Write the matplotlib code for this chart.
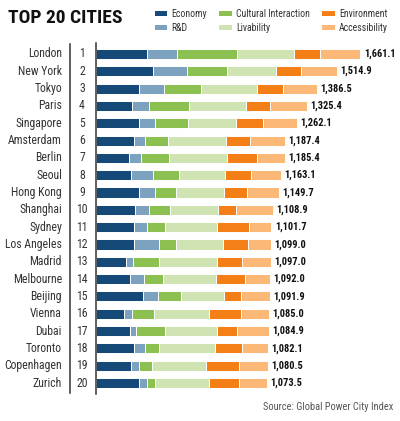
import matplotlib
matplotlib.use("Agg")
import numpy as np
from matplotlib import pyplot as plt
from matplotlib.patches import Patch
from matplotlib.lines import Line2D

cities = ["London", "New York", "Tokyo", "Paris", "Singapore", "Amsterdam", "Berlin",
          "Seoul", "Hong Kong", "Shanghai", "Sydney", "Los Angeles", "Madrid", "Melbourne",
          "Beijing", "Vienna", "Dubai", "Toronto", "Copenhagen", "Zurich"]
totals = [1661.1, 1514.9, 1386.5, 1325.4, 1262.1, 1187.4, 1185.4, 1163.1, 1149.7, 1108.9,
          1101.7, 1099.0, 1097.0, 1092.0, 1091.9, 1085.0, 1084.9, 1082.1, 1080.5, 1073.5]

economy       = [320, 356, 270, 226, 268, 241, 205, 222, 268, 247, 237, 237, 189, 216, 293, 178, 216, 237, 220, 268]
rnd           = [192, 216, 155, 105, 105, 69, 80, 134, 105, 84, 84, 157, 44, 84, 96, 48, 36, 69, 48, 52]
cultural      = [377, 251, 237, 251, 203, 140, 172, 163, 132, 136, 115, 111, 161, 119, 147, 136, 184, 88, 84, 48]
livability    = [353, 311, 347, 362, 302, 366, 363, 294, 300, 297, 327, 296, 364, 334, 269, 350, 324, 353, 336, 339]
environment   = [168, 153, 163, 151, 172, 151, 193, 161, 142, 115, 199, 153, 161, 184, 105, 199, 124, 172, 210, 193]
accessibility = [251, 228, 214, 230, 212, 220, 172, 189, 203, 230, 140, 145, 178, 155, 182, 174, 201, 163, 182, 174]

labels = ["Economy", "R&D", "Cultural Interaction", "Livability", "Environment", "Accessibility"]
colors = ["#154a78", "#7da2bf", "#8cc152", "#cfe3b3", "#f57f17", "#fbb877"]

# condensed face first, plain sans as the fallback
plt.rcParams["font.family"] = ["Roboto Condensed", "Liberation Sans Narrow", "Roboto", "DejaVu Sans"]

fig = plt.figure(figsize=(4.0, 4.21), dpi=100)
ax = fig.add_axes([96 / 400, 27 / 421, 304 / 400, 351 / 421])

series = [economy, rnd, cultural, livability, environment, accessibility]
y = np.arange(len(cities))
left = np.zeros(len(cities))
for vals, c in zip(series, colors):
    vals = np.array(vals, dtype=float)
    ax.barh(y, vals, left=left, height=0.58, color=c, edgecolor="white", linewidth=0.7)
    left += vals

ax.set_xlim(0, 1910)
ax.set_ylim(19.63, -0.63)
ax.set_xticks([])
ax.set_yticks([])
for s in ("top", "right", "bottom"):
    ax.spines[s].set_visible(False)
ax.spines["left"].set_color("#333333")
ax.spines["left"].set_linewidth(1.1)

tr = ax.get_yaxis_transform()
for i, (city, tot) in enumerate(zip(cities, totals)):
    ax.text(-0.112, i, city, transform=tr, ha="right", va="center", fontsize=8.5, color="#333333")
    ax.text(-0.046, i, str(i + 1), transform=tr, ha="center", va="center", fontsize=8.5, color="#333333")
    ax.annotate(f"{tot:,.1f}", (left[i], i), xytext=(2.5, 0), textcoords="offset points",
                ha="left", va="center", fontsize=7.5, fontweight="bold", color="#111111")

fig.add_artist(Line2D([70 / 400, 70 / 400], [1 - 44 / 421, 1 - 393 / 421],
                      color="#333333", linewidth=1.1))

fig.text(8 / 400, 1 - 18 / 421, "TOP 20 CITIES", fontsize=14, fontweight="bold",
         va="center", ha="left", color="#111111")

handles = [Patch(facecolor=c, label=l) for c, l in zip(colors, labels)]
fig.legend(handles=handles, ncol=3, loc="upper right", bbox_to_anchor=(0.985, 0.993),
           frameon=False, fontsize=7, handlelength=1.3, handleheight=0.4,
           handletextpad=0.4, columnspacing=1.3, labelspacing=0.35, borderaxespad=0.25,
           labelcolor="#333333")

fig.text(393 / 400, 1 - 407 / 421, "Source: Global Power City Index", fontsize=7.5,
         ha="right", va="center", color="#555555")

fig.savefig("out.png", dpi=100)
